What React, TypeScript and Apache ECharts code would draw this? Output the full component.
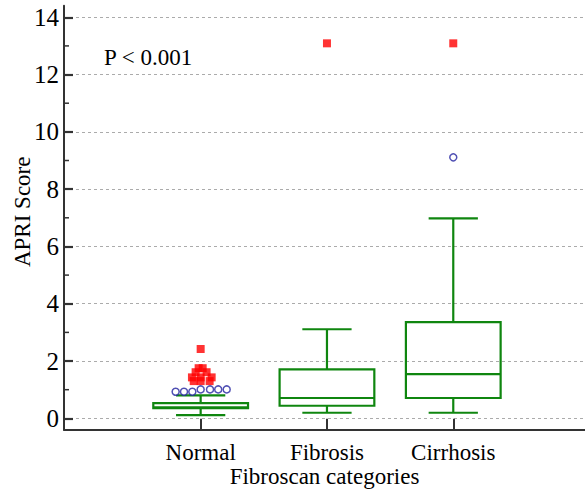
import React, { useEffect, useRef } from "react";
import * as echarts from "echarts";

// ---- data ----
const categories = ["Normal", "Fibrosis", "Cirrhosis"];
const whiskerLow = [0.115, 0.195, 0.195];
const quartile1 = [0.36, 0.44, 0.71];
const medians = [0.38, 0.71, 1.54];
const quartile3 = [0.53, 1.71, 3.36];
const whiskerHigh = [0.8, 3.11, 6.98];

// outside values (blue open circles)
const outsideCategory = [0, 0, 0, 0, 0, 0, 0, 2];
const outsideValues = [0.93, 0.93, 0.93, 1.01, 1.01, 1.01, 1.01, 9.11];

// far-out values (red squares)
const farOutCategory = [0, 0, 0, 0, 0, 0, 0, 0, 0, 0, 0, 1, 2];
const farOutValues = [2.42, 1.75, 1.75, 1.61, 1.61, 1.43, 1.43, 1.43, 1.3, 1.3, 1.3, 13.09, 13.09];

const yTickValues = [0, 2, 4, 6, 8, 10, 12, 14];
const yMinorTickValues = [1, 3, 5, 7, 9, 11, 13];
const pValueText = "P < 0.001";
const xTitle = "Fibroscan categories";
const yTitle = "APRI Score";

// ---- layout / style (horizontal jitter of overlapping points, in category units) ----
const outsideJitter = [-0.198, -0.132, -0.066, 0, 0.074, 0.139, 0.206, 0];
const farOutJitter = [0, -0.016, 0.016, -0.04, 0.047, -0.069, 0, 0.087, -0.055, 0, 0.071, 0, 0];

const FONT = "Liberation Serif";
const FS = 23;
const FS_Y = 25;
const GREEN = "#0f860f";
const BLUE = "#2424a0";
const RED = "#ff0000";
const AXIS = "#333333";
const BOX_WIDTH = 0.75;
const CAP_WIDTH = 0.39;
const X_MIN = -0.082;
const X_MAX = 4.043;

export default function App() {
  const ref = useRef<HTMLDivElement>(null);

  useEffect(() => {
    if (!ref.current) return;
    const chart = echarts.init(ref.current, undefined, { renderer: "svg" });

    const boxData = categories.map((_, i) => [
      i + 1,
      whiskerLow[i],
      quartile1[i],
      medians[i],
      quartile3[i],
      whiskerHigh[i],
    ]);
    const outsideData = outsideValues.map((v, i) => [outsideCategory[i] + 1 + outsideJitter[i], v]);
    const farOutData = farOutValues.map((v, i) => [farOutCategory[i] + 1 + farOutJitter[i], v]);
    const minorTickData = yMinorTickValues.map((v) => [X_MIN, v]);

    const option: any = {
      animation: false,
      backgroundColor: "#ffffff",
      textStyle: { fontFamily: FONT },
      grid: { left: 64, right: 0, top: 5.8, bottom: 65.2, containLabel: false, outerBoundsMode: "none" },
      xAxis: {
        type: "value",
        min: X_MIN,
        max: X_MAX,
        axisLine: { show: true, onZero: false, lineStyle: { color: AXIS, width: 2 } },
        axisTick: { show: true, inside: true, length: 11, customValues: [1, 2, 3], lineStyle: { color: AXIS, width: 2 } },
        axisLabel: {
          show: true,
          customValues: [1, 2, 3],
          formatter: (v: number) => categories[Math.round(v) - 1] ?? "",
          fontFamily: FONT,
          fontSize: FS,
          color: "#000",
          margin: 11,
        },
        splitLine: { show: false },
        name: xTitle,
        nameLocation: "middle",
        nameGap: 35,
        nameMoveOverlap: false,
        nameTextStyle: { fontFamily: FONT, fontSize: FS, color: "#000" },
      },
      yAxis: {
        type: "value",
        min: -0.4,
        max: 14.4,
        position: "left",
        axisLine: { show: true, onZero: false, lineStyle: { color: AXIS, width: 2 } },
        axisTick: { show: true, inside: true, length: 9, customValues: yTickValues, lineStyle: { color: AXIS, width: 2.2 } },
        axisLabel: { show: true, customValues: yTickValues, fontFamily: FONT, fontSize: FS_Y, color: "#000", margin: 5 },
        splitLine: { show: true, lineStyle: { color: "#ababab", width: 1.2, type: [3, 3] } },
        name: yTitle,
        nameLocation: "middle",
        nameGap: 30,
        nameMoveOverlap: false,
        nameTextStyle: { fontFamily: FONT, fontSize: FS, color: "#000", padding: [0, 0, 0, 12] },
      },
      graphic: [
        {
          type: "text",
          x: 104,
          y: 57.2,
          style: {
            text: pValueText,
            fontFamily: FONT,
            fontSize: FS,
            fill: "#000",
            verticalAlign: "middle",
            align: "left",
          },
        },
      ],
      series: [
        {
          type: "custom",
          name: "minor ticks",
          data: minorTickData,
          encode: { x: 0, y: 1 },
          silent: true,
          clip: false,
          renderItem: (params: any, api: any) => {
            const p = api.coord([api.value(0), api.value(1)]);
            return {
              type: "line",
              shape: { x1: p[0], y1: p[1], x2: p[0] + 5, y2: p[1] },
              style: { stroke: AXIS, lineWidth: 1.5 },
            };
          },
          z: 5,
        },
        {
          type: "custom",
          name: "box",
          data: boxData,
          encode: { x: 0, y: [1, 2, 3, 4, 5] },
          renderItem: (params: any, api: any) => {
            const x = api.value(0);
            const low = api.coord([x, api.value(1)]);
            const b1 = api.coord([x, api.value(2)]);
            const med = api.coord([x, api.value(3)]);
            const b3 = api.coord([x, api.value(4)]);
            const high = api.coord([x, api.value(5)]);
            const bw = api.size([BOX_WIDTH, 0])[0];
            const cw = api.size([CAP_WIDTH, 0])[0];
            const cx = low[0];
            const style = { stroke: GREEN, lineWidth: 2.2, fill: "none" };
            return {
              type: "group",
              children: [
                { type: "line", shape: { x1: cx, y1: high[1], x2: cx, y2: b3[1] }, style },
                { type: "line", shape: { x1: cx, y1: b1[1], x2: cx, y2: low[1] }, style },
                { type: "line", shape: { x1: cx - cw / 2, y1: high[1], x2: cx + cw / 2, y2: high[1] }, style },
                { type: "line", shape: { x1: cx - cw / 2, y1: low[1], x2: cx + cw / 2, y2: low[1] }, style },
                { type: "rect", shape: { x: cx - bw / 2, y: b3[1], width: bw, height: b1[1] - b3[1] }, style },
                { type: "line", shape: { x1: cx - bw / 2, y1: med[1], x2: cx + bw / 2, y2: med[1] }, style },
              ],
            };
          },
          z: 2,
        },
        {
          type: "scatter",
          name: "far out",
          data: farOutData,
          symbol: "rect",
          symbolSize: 8,
          itemStyle: { color: RED },
          z: 3,
        },
        {
          type: "scatter",
          name: "outside",
          data: outsideData,
          symbol: "circle",
          symbolSize: 7,
          itemStyle: { color: "#ffffff", borderColor: BLUE, borderWidth: 1.5 },
          z: 4,
        },
      ],
    };

    chart.setOption(option);
    return () => chart.dispose();
  }, []);

  return (
    <div
      ref={ref}
      style={{ position: "fixed", left: 0, top: 0, width: 585, height: 495, background: "#fff" }}
    />
  );
}
